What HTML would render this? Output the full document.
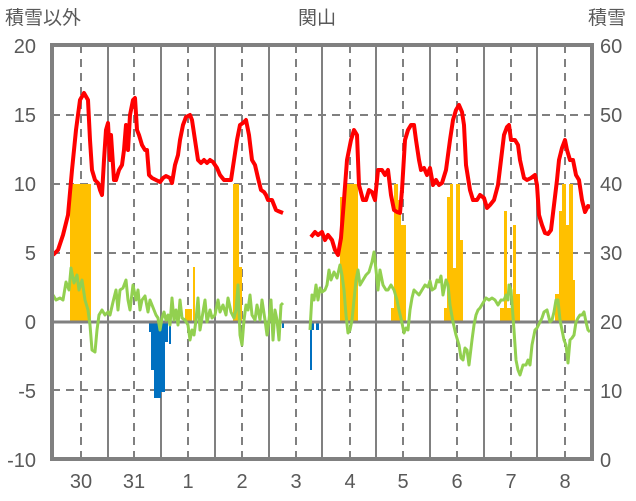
<!DOCTYPE html><html><head><style>body{margin:0;background:#fff}svg{display:block}text{font-family:"Liberation Sans","Noto Sans CJK JP",sans-serif;fill:#595959}</style></head><body>
<svg width="636" height="501" viewBox="0 0 636 501">
<g font-size="19">
<text x="5" y="24">積雪以外</text><text x="298" y="24">関山</text><text x="588" y="24">積雪</text>
</g>
<g font-size="20" text-anchor="end">
<text x="36" y="53">20</text><text x="36" y="122">15</text><text x="36" y="191">10</text><text x="36" y="260">5</text><text x="36" y="329">0</text><text x="36" y="398">-5</text><text x="36" y="467">-10</text>
</g>
<g font-size="20">
<text x="600" y="53">60</text><text x="600" y="122">50</text><text x="600" y="191">40</text><text x="600" y="260">30</text><text x="600" y="329">20</text><text x="600" y="398">10</text><text x="600" y="467">0</text>
</g>
<g font-size="20" text-anchor="middle">
<text x="81" y="488">30</text><text x="134" y="488">31</text><text x="188" y="488">1</text><text x="242" y="488">2</text><text x="296" y="488">3</text><text x="350" y="488">4</text><text x="403" y="488">5</text><text x="457" y="488">6</text><text x="511" y="488">7</text><text x="565" y="488">8</text>
</g>
<g stroke="#808080" stroke-width="2" stroke-dasharray="8,6">
<path d="M52 115H592M52 184H592M52 253H592M52 390H592"/>
<path d="M81 45V459M134 45V459M188 45V459M242 45V459M296 45V459M350 45V459M403 45V459M457 45V459M511 45V459M565 45V459"/>
</g>
<g stroke="#808080" stroke-width="2">
<path d="M108 45V459M161 45V459M215 45V459M269 45V459M322 45V459M376 45V459M430 45V459M484 45V459M537 45V459"/>
</g>
<g fill="#FFC000">
<rect x="70" y="184" width="21" height="138"/>
<rect x="233" y="184" width="6" height="138"/><rect x="239" y="267" width="3" height="55"/><rect x="193" y="267" width="2" height="55"/><rect x="185" y="309" width="7" height="13"/>
<rect x="340" y="197" width="4" height="125"/><rect x="344" y="184" width="14" height="138"/>
<rect x="391" y="308" width="3" height="14"/><rect x="394" y="184" width="4" height="138"/><rect x="398" y="200" width="3" height="122"/><rect x="401" y="225" width="5" height="97"/>
<rect x="444" y="308" width="3" height="14"/><rect x="447" y="197" width="3" height="125"/><rect x="450" y="184" width="3" height="138"/><rect x="453" y="268" width="3" height="54"/><rect x="456" y="184" width="4" height="138"/><rect x="460" y="240" width="3" height="82"/>
<rect x="500" y="308" width="4" height="14"/><rect x="504" y="211" width="3" height="111"/><rect x="507" y="308" width="6" height="14"/><rect x="513" y="225" width="3" height="97"/><rect x="516" y="294" width="4" height="28"/>
<rect x="555" y="294" width="4" height="28"/><rect x="559" y="211" width="3" height="111"/><rect x="562" y="184" width="4" height="138"/><rect x="566" y="225" width="3" height="97"/><rect x="569" y="184" width="4" height="138"/><rect x="573" y="280" width="2" height="42"/>
</g>
<g fill="#0070C0">
<rect x="149" y="322" width="2" height="10"/><rect x="151" y="322" width="3" height="48"/><rect x="154" y="322" width="7" height="76"/><rect x="161" y="322" width="4" height="70"/><rect x="165" y="322" width="3" height="20"/><rect x="169" y="322" width="2" height="22"/>
<rect x="282" y="322" width="2" height="6"/><rect x="310" y="322" width="2" height="48"/><rect x="312" y="322" width="2" height="8"/><rect x="316" y="322" width="3" height="8"/>
</g>
<path d="M52 459H283M310 459H592" stroke="#7030A0" stroke-width="4"/>
<path d="M283 459H310" stroke="#808080" stroke-width="4"/>
<path d="M52 322H592" stroke="#808080" stroke-width="3"/>
<path fill="none" stroke="#92D050" stroke-width="3" stroke-linejoin="round" d="M53 295L56 300L60 298L63 300L66 282L69 290L71 268L74 283L77 275L79 290L82 280L85 300L88 310L90 325L92 350L95 352L97 330L99 315L102 310L105 315L108 312L110 315L113 302L116 290L118 310L120 290L123 288L126 280L128 300L130 310L133 285L136 300L138 290L140 310L142 300L145 296L148 312L150 300L152 305L154 310L156 315L158 318L160 330L162 318L164 312L166 320L168 315L170 325L172 298L174 320L176 310L178 325L180 300L182 318L185 320L188 325L190 340L192 330L194 335L196 320L198 298L200 330L202 318L205 300L207 322L210 310L212 318L215 315L218 300L220 312L223 305L226 315L228 298L231 312L234 318L236 310L238 285L240 335L242 345L244 320L246 305L248 310L250 295L252 315L255 320L257 305L260 320L262 300L265 320L267 335L269 320L271 300L273 340L275 310L277 320L279 340L281 305L283 303 M310 330L312 295L314 300L316 285L318 300L320 288L322 292L325 290L327 285L329 270L331 280L334 272L337 278L340 265L342 275L344 290L346 315L348 333L350 330L352 320L354 300L356 280L358 270L360 285L363 280L366 275L369 272L372 262L374 252L376 270L378 290L380 270L383 285L386 290L388 290L391 285L394 290L397 300L399 310L402 323L404 333L406 328L408 330L410 310L412 298L414 290L416 292L419 295L422 290L425 285L428 287L430 281L432 290L435 288L437 280L439 282L441 276L443 295L446 280L448 285L450 305L453 322L456 335L459 345L461 358L463 360L465 348L467 350L469 365L472 340L474 325L476 315L478 310L480 308L483 303L486 298L489 300L492 298L495 300L498 305L501 300L504 300L506 295L508 300L509 285L511 290L514 330L516 360L518 370L520 375L523 365L526 365L528 360L530 365L532 345L535 330L537 328L540 322L542 318L544 312L547 310L550 322L552 320L554 312L556 300L558 300L560 320L562 330L564 340L566 345L568 363L570 340L572 338L574 335L576 322L578 318L580 315L582 315L584 312L586 322L588 330L590 332"/>
<path fill="none" stroke="#FF0000" stroke-width="4" stroke-linejoin="round" d="M53 255L58 250L63 235L68 215L72 170L76 130L80 100L84 93L88 100L90 140L92 170L95 180L98 183L100 190L102 195L104 160L106 130L108 123L110 160L111 135L114 180L116 180L119 170L122 165L124 150L126 125L128 150L130 115L133 100L135 98L137 130L139 135L142 145L145 150L147 150L149 175L152 178L156 180L160 182L163 178L166 176L170 178L172 183L175 165L178 155L180 140L183 125L186 117L190 115L192 120L195 140L198 160L201 163L204 160L207 163L210 160L213 162L217 168L220 175L224 180L228 180L231 180L234 160L237 140L240 125L243 123L246 120L249 135L252 160L255 165L258 178L261 190L264 192L266 195L268 200L272 200L276 210L278 211L283 213 M311 237L315 232L318 235L322 232L325 240L328 235L332 240L335 250L338 255L341 238L344 200L347 160L351 140L354 130L357 135L359 185L363 200L366 200L369 190L372 192L375 200L378 170L382 170L385 175L388 170L391 195L394 210L397 212L400 213L402 190L405 140L408 130L411 125L414 125L416 140L419 160L421 170L424 168L427 175L430 168L433 185L436 180L439 185L442 183L446 170L450 140L453 120L456 110L459 105L462 112L464 125L466 165L470 190L473 200L477 200L480 195L484 198L487 208L490 205L494 200L498 185L501 160L504 135L507 127L509 125L511 140L515 140L518 145L520 160L524 178L527 180L531 178L535 175L537 185L539 215L542 225L545 233L548 234L551 230L554 205L557 180L559 160L562 148L565 140L567 150L570 160L573 160L576 175L579 180L582 200L585 212L588 206L591 207"/>
<rect x="52" y="45" width="540" height="414" fill="none" stroke="#808080" stroke-width="4"/>
</svg>
</body></html>
